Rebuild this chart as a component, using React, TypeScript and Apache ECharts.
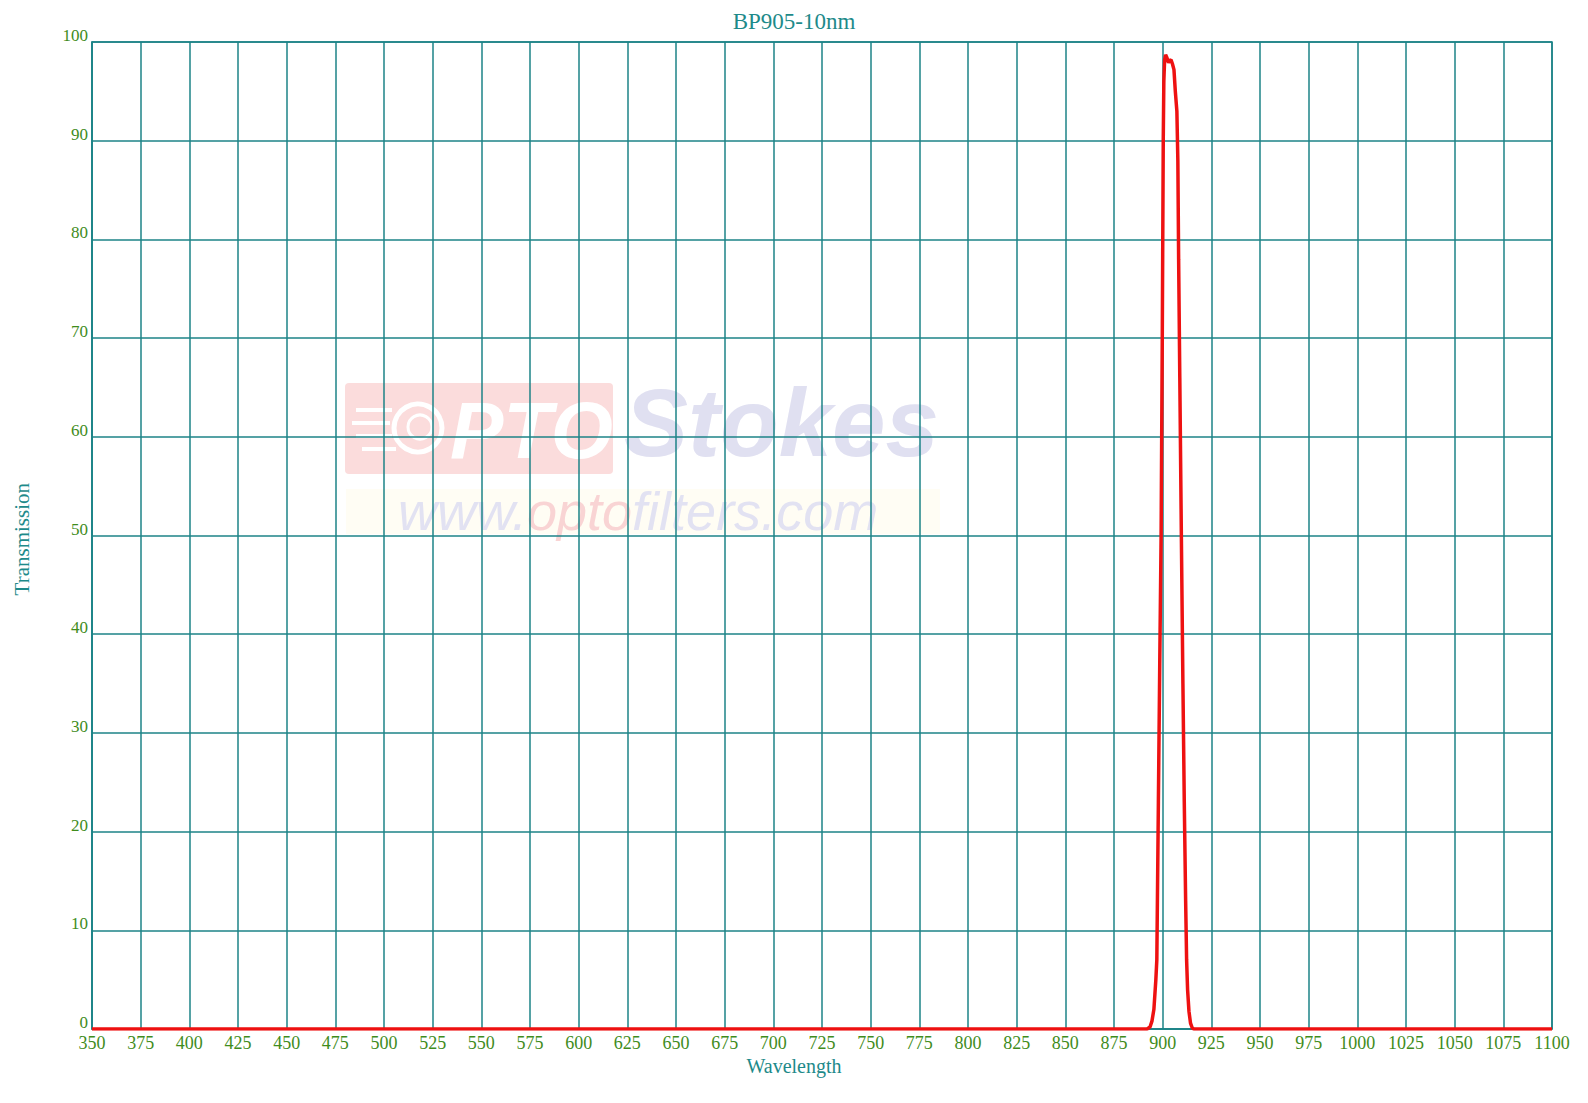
import React, { useEffect, useRef } from "react";
import * as echarts from "echarts";

const titleText = "BP905-10nm";
const xName = "Wavelength";
const yName = "Transmission";

const wavelengths = [
  350, 600, 890, 892, 893.5, 894.5, 895.5, 896.5, 897, 897.8, 898.5, 899.2, 899.8, 900.1,
  900.3, 900.6, 901, 901.5, 902.2, 903, 903.6, 904.3, 905, 905.8, 906.5, 907.3, 907.8,
  908.2, 908.8, 909.6, 910.4, 911.1, 911.8, 912.3, 912.8, 913.5, 914.3, 915.2, 916, 1000, 1100,
];
const transmission = [
  0, 0, 0, 0, 0.2, 0.8, 2, 5, 7, 23, 37, 50, 70, 82,
  90, 96, 98.2, 98.7, 98.4, 97.9, 98.1, 98.2, 97.8, 97.2, 95, 93, 88,
  78, 66, 50, 35, 23, 13, 7, 4, 1.8, 0.6, 0.1, 0, 0, 0,
];

const xMin = 350;
const xMax = 1100;
const xStep = 25;
const yMin = 0;
const yMax = 100;
const yStep = 10;

const TEAL = "#1d8387";
const LABEL_GREEN = "#3f8c1c";
const NAME_TEAL = "#1e8a8a";
const SERIF = "'Liberation Serif', 'Times New Roman', serif";
const SANS = "'Liberation Sans', Arial, sans-serif";

export default function App() {
  const ref = useRef<HTMLDivElement>(null);

  useEffect(() => {
    if (!ref.current) return;
    const chart = echarts.init(ref.current, undefined, { renderer: "svg" });
    const data = wavelengths.map((w, i) => [w, transmission[i]]);

    chart.setOption({
      animation: false,
      backgroundColor: "#ffffff",
      title: {
        text: titleText,
        left: "center",
        top: 5,
        textStyle: { fontFamily: SERIF, fontSize: 23, fontWeight: "normal", color: NAME_TEAL },
      },
      grid: {
        left: 92,
        right: 36,
        top: 42,
        bottom: 74,
        show: true,
        borderColor: TEAL,
        borderWidth: 1.5,
        backgroundColor: "transparent",
      },
      xAxis: {
        type: "value",
        min: xMin,
        max: xMax,
        interval: xStep,
        axisLine: { show: true, lineStyle: { color: TEAL, width: 1.5 } },
        axisTick: { show: false },
        axisLabel: {
          color: LABEL_GREEN,
          fontFamily: SERIF,
          fontSize: 18,
          margin: 5,
          formatter: (v: number) => String(v),
        },
        splitLine: { show: true, lineStyle: { color: TEAL, width: 1.5 } },
      },
      yAxis: {
        type: "value",
        min: yMin,
        max: yMax,
        interval: yStep,
        axisLine: { show: true, lineStyle: { color: TEAL, width: 1.5 } },
        axisTick: { show: false },
        axisLabel: {
          color: LABEL_GREEN,
          fontFamily: SERIF,
          fontSize: 17,
          margin: 4,
          verticalAlign: "bottom",
          padding: [0, 0, -2, 0],
          formatter: (v: number) => String(v),
        },
        splitLine: { show: true, lineStyle: { color: TEAL, width: 1.5 } },
      },
      graphic: [
        {
          type: "rect",
          z: -10,
          shape: { x: 346, y: 489, width: 594, height: 45 },
          style: { fill: "#fffdf4" },
        },
        {
          type: "rect",
          z: -10,
          shape: { x: 345, y: 383, width: 268, height: 91, r: 4 },
          style: { fill: "#fbdcdc" },
        },
        {
          type: "circle",
          z: -9,
          shape: { cx: 418, cy: 428, r: 24 },
          style: { fill: "none", stroke: "#ffffff", lineWidth: 5 },
        },
        {
          type: "circle",
          z: -9,
          shape: { cx: 420, cy: 427, r: 12 },
          style: { fill: "none", stroke: "#ffffff", lineWidth: 3 },
        },
        {
          type: "line",
          z: -9,
          shape: { x1: 356, y1: 410, x2: 392, y2: 410 },
          style: { stroke: "#ffffff", lineWidth: 4 },
        },
        {
          type: "line",
          z: -9,
          shape: { x1: 352, y1: 423, x2: 390, y2: 423 },
          style: { stroke: "#ffffff", lineWidth: 4 },
        },
        {
          type: "line",
          z: -9,
          shape: { x1: 356, y1: 436, x2: 392, y2: 436 },
          style: { stroke: "#ffffff", lineWidth: 4 },
        },
        {
          type: "line",
          z: -9,
          shape: { x1: 362, y1: 449, x2: 396, y2: 449 },
          style: { stroke: "#ffffff", lineWidth: 4 },
        },
        {
          type: "text",
          z: -9,
          x: 450,
          y: 470,
          style: {
            text: "PTO",
            fill: "#ffffff",
            font: `italic bold 80px ${SANS}`,
            textVerticalAlign: "bottom",
          },
        },
        {
          type: "text",
          z: -9,
          x: 624,
          y: 470,
          style: {
            text: "Stokes",
            fill: "#e0e0f1",
            font: `italic bold 96px ${SANS}`,
            textVerticalAlign: "bottom",
          },
        },
        {
          type: "text",
          z: -9,
          x: 398,
          y: 538,
          style: {
            text: "{a|www.}{b|opto}{a|filters.com}",
            font: `italic 54px ${SANS}`,
            textVerticalAlign: "bottom",
            rich: {
              a: { fill: "#e2e2f2", font: `italic 54px ${SANS}` },
              b: { fill: "#f9d4d4", font: `italic 54px ${SANS}` },
            },
          },
        },
        {
          type: "text",
          left: 11,
          top: 483,
          style: {
            text: yName,
            fill: NAME_TEAL,
            font: `21px ${SERIF}`,
          },
          rotation: Math.PI / 2,
          originX: 0,
          originY: 0,
        },
        {
          type: "text",
          x: 794,
          y: 1066,
          style: {
            text: xName,
            fill: NAME_TEAL,
            font: `20px ${SERIF}`,
            textAlign: "center",
            textVerticalAlign: "middle",
          },
        },
      ],
      series: [
        {
          type: "line",
          data,
          showSymbol: false,
          symbol: "none",
          z: 5,
          lineStyle: { color: "#ee1111", width: 3.5 },
        },
      ],
    });

    return () => chart.dispose();
  }, []);

  return (
    <div
      ref={ref}
      style={{ position: "fixed", left: 0, top: 0, width: 1588, height: 1103, background: "#fff" }}
    />
  );
}
